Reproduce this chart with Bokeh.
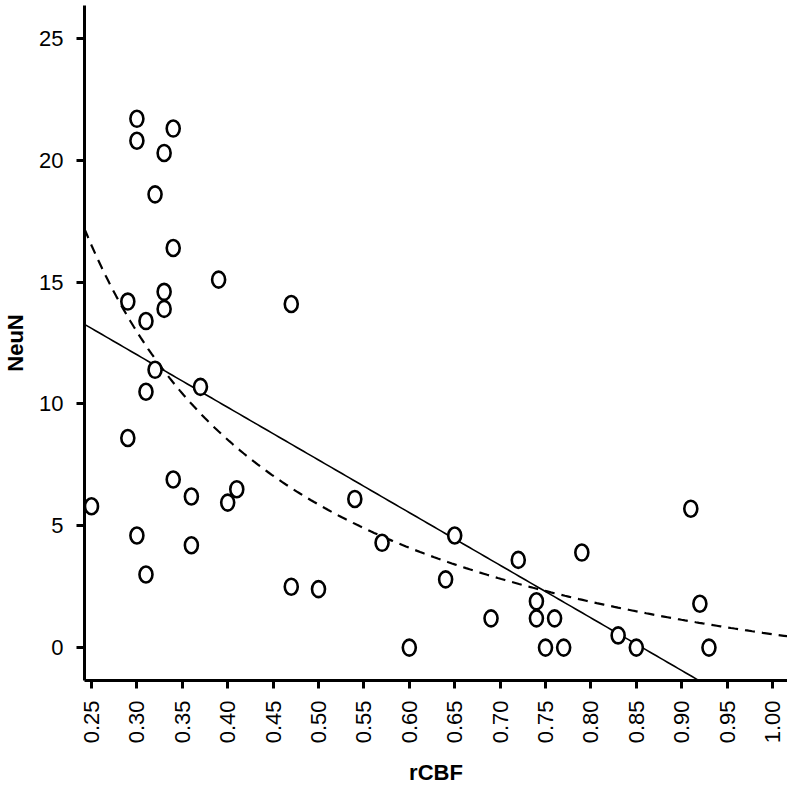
import numpy as np
from bokeh.plotting import figure
from bokeh.models import FixedTicker, ColumnDataSource, Range1d
from bokeh.embed import file_html
from bokeh.resources import INLINE

# data
rcbf = [0.25, 0.30, 0.30, 0.34, 0.33, 0.32, 0.34, 0.39, 0.47, 0.29, 0.33, 0.33,
        0.31, 0.32, 0.37, 0.31, 0.29, 0.34, 0.36, 0.41, 0.40, 0.30, 0.36, 0.31,
        0.47, 0.50, 0.54, 0.57, 0.65, 0.64, 0.60, 0.69, 0.72, 0.74, 0.74, 0.76,
        0.75, 0.77, 0.79, 0.83, 0.85, 0.91, 0.92, 0.93]
neun = [5.8, 21.7, 20.8, 21.3, 20.3, 18.6, 16.4, 15.1, 14.1, 14.2, 14.6, 13.9,
        13.4, 11.4, 10.7, 10.5, 8.6, 6.9, 6.2, 6.5, 5.95, 4.6, 4.2, 3.0,
        2.5, 2.4, 6.1, 4.3, 4.6, 2.8, 0.0, 1.2, 3.6, 1.9, 1.2, 1.2,
        0.0, 0.0, 3.9, 0.5, 0.0, 5.7, 1.8, 0.0]

# fit coefficients
lin_intercept, lin_slope = 18.5, -21.6      # solid: y = a + b*x
rec_const, rec_coef = -4.77, 5.32           # dashed: y = a + b/x

x_ticks = [0.25, 0.30, 0.35, 0.40, 0.45, 0.50, 0.55, 0.60, 0.65, 0.70, 0.75,
           0.80, 0.85, 0.90, 0.95, 1.00]
y_ticks = [0, 5, 10, 15, 20, 25]

x_lo, x_hi = 0.2423, 1.0165
y_lo, y_hi = -1.35, 26.35

p = figure(width=787, height=795, output_backend="svg", toolbar_location=None,
           x_range=Range1d(x_lo, x_hi), y_range=Range1d(y_lo, y_hi),
           min_border_left=83, min_border_right=0, min_border_top=5,
           min_border_bottom=115)
p.outline_line_color = None
p.grid.visible = False
p.background_fill_color = "white"
p.border_fill_color = "white"

# fit lines
xl = np.linspace(x_lo, x_hi, 200)
p.line(xl, lin_intercept + lin_slope * xl, line_color="black", line_width=1.6)
p.line(xl, rec_const + rec_coef / xl, line_color="black", line_width=2.2,
       line_dash="10 7")

src = ColumnDataSource(dict(x=rcbf, y=neun))
p.ellipse(x="x", y="y", width=13, height=16, width_units="screen",
          height_units="screen", source=src, fill_color="white",
          line_color="black", line_width=2.6)

for ax in (p.xaxis[0], p.yaxis[0]):
    ax.axis_line_width = 3
    ax.axis_line_color = "black"
    ax.major_tick_line_width = 3
    ax.major_tick_line_color = "black"
    ax.major_tick_in = 0
    ax.major_tick_out = 8
    ax.minor_tick_line_color = None
    ax.major_label_text_font = "Liberation Sans"
    ax.major_label_text_font_size = "22px"
    ax.major_label_text_color = "black"
    ax.axis_label_text_font = "Liberation Sans"
    ax.axis_label_text_font_style = "bold"
    ax.axis_label_text_font_size = "22px"
    ax.axis_label_text_color = "black"

p.xaxis.ticker = FixedTicker(ticks=x_ticks)
p.xaxis.major_label_overrides = {t: f"{t:.2f}" for t in x_ticks}
p.xaxis.major_label_orientation = np.pi / 2
p.xaxis.major_label_standoff = 12
p.xaxis.axis_label = "rCBF"
p.xaxis.axis_label_standoff = 14

p.yaxis.ticker = FixedTicker(ticks=y_ticks)
p.yaxis.major_label_standoff = 13
p.yaxis.axis_label = "NeuN"
p.yaxis.axis_label_standoff = 8

open("out.html", "w").write(file_html(p, INLINE))
